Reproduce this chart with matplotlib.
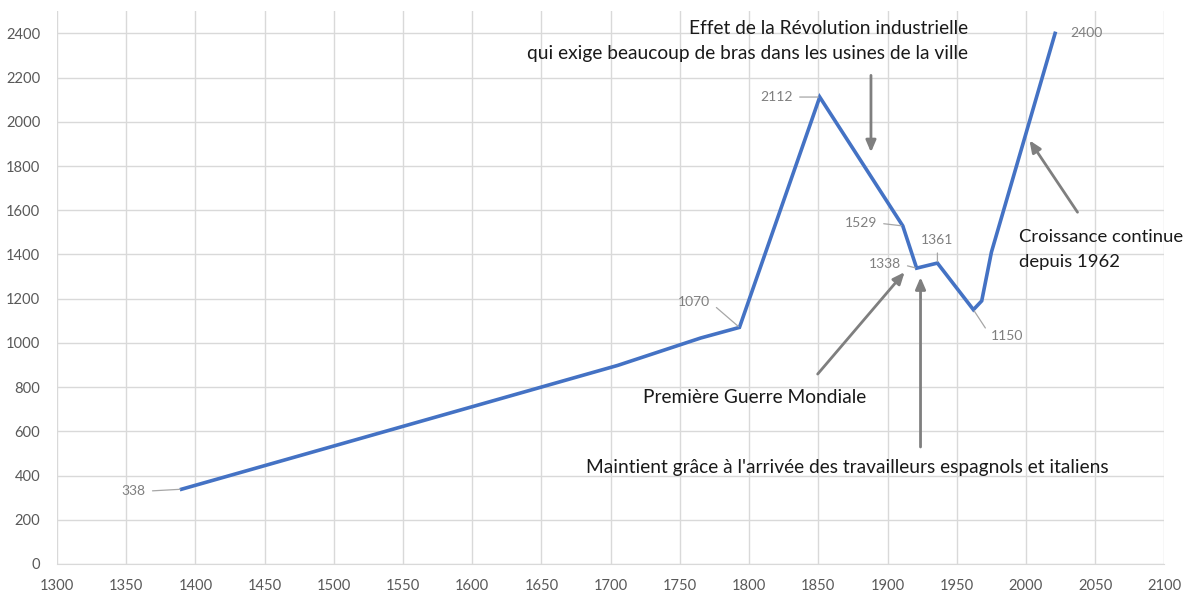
import matplotlib
matplotlib.use("Agg")
import matplotlib.pyplot as plt

# Data
years = [1390, 1705, 1765, 1793, 1851, 1911, 1921, 1936, 1962, 1968, 1975, 2021]
population = [338, 898, 1022, 1070, 2112, 1529, 1338, 1361, 1150, 1190, 1410, 2400]
x_ticks = list(range(1300, 2101, 50))
y_ticks = list(range(0, 2401, 200))

# labelled points: year -> (dx px, dy px, ha)
labelled = {
    1390: (-36, -2, "right"),
    1793: (-29, 25, "right"),
    1851: (-27, 0, "right"),
    1911: (-26, 3, "right"),
    1921: (-16, 4, "right"),
    1936: (0, 23, "center"),
    1962: (17, -26, "left"),
    2021: (15, 0, "left"),
}

FONT = ["Lato", "DejaVu Sans"]
plt.rcParams["font.family"] = FONT

fig = plt.figure(figsize=(11.87, 5.93), dpi=100)
ax = fig.add_axes([0.048, 0.049, 0.933, 0.932])

ax.set_xlim(1300, 2100)
ax.set_ylim(0, 2500)
ax.set_xticks(x_ticks)
ax.set_yticks(y_ticks)
ax.grid(True, color="#d9d9d9", linewidth=1.0)
ax.set_axisbelow(True)
for s in ["top", "right", "left"]:
    ax.spines[s].set_visible(False)
ax.spines["bottom"].set_color("#d9d9d9")
ax.tick_params(length=0, labelsize=10.6, labelcolor="#595959")
ax.tick_params(axis="x", pad=11)
ax.tick_params(axis="y", pad=12)

ax.plot(years, population, color="#4472C4", linewidth=2.6, solid_joinstyle="miter", zorder=3)

for y, v in zip(years, population):
    if y in labelled:
        dx, dy, ha = labelled[y]
        relx = {"right": 1.0, "left": 0.0, "center": 0.5}[ha]
        ap = None
        if y != 2021:
            ap = dict(arrowstyle="-", color="#a6a6a6", lw=0.9, shrinkA=3, shrinkB=1,
                      relpos=(relx, 0.5) if ha != "center" else (0.5, 0.0))
        ax.annotate(str(v), xy=(y, v), xytext=(dx, dy), textcoords="offset pixels",
                    ha=ha, va="center", fontsize=10, color="#7f7f7f",
                    arrowprops=ap, zorder=4)

tc = "#1a1a1a"
fs = 13.8
ax.text(1958, 2423, "Effet de la Révolution industrielle", ha="right", va="center", fontsize=fs, color=tc)
ax.text(1958, 2310, "qui exige beaucoup de bras dans les usines de la ville", ha="right", va="center", fontsize=fs, color=tc)
ax.text(1804, 755, "Première Guerre Mondiale", ha="center", va="center", fontsize=fs, color=tc)
ax.text(1871, 438, "Maintient grâce à l'arrivée des travailleurs espagnols et italiens", ha="center", va="center", fontsize=fs, color=tc)
ax.text(1994.6, 1478, "Croissance continue", ha="left", va="center", fontsize=13.3, color=tc)
ax.text(1994.6, 1365, "depuis 1962", ha="left", va="center", fontsize=13.3, color=tc)

arrow = dict(arrowstyle="-|>,head_length=0.7,head_width=0.3", color="#7f7f7f", lw=2, shrinkA=0, shrinkB=0)
ax.annotate("", xy=(1888, 1862), xytext=(1888, 2210), arrowprops=arrow)
ax.annotate("", xy=(1912.3, 1320), xytext=(1849.5, 859), arrowprops=arrow)
ax.annotate("", xy=(1923.8, 1297), xytext=(1923.8, 529), arrowprops=arrow)
ax.annotate("", xy=(2002.5, 1916), xytext=(2037.2, 1591), arrowprops=arrow)

fig.savefig("out.png", dpi=100)
